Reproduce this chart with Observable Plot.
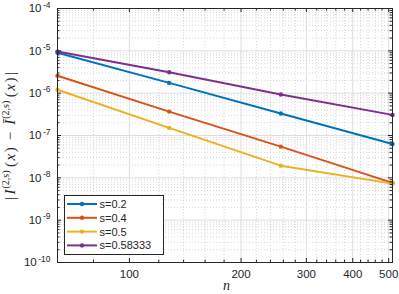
<!DOCTYPE html>
<html>
<head>
<meta charset="utf-8">
<script src="https://cdn.jsdelivr.net/npm/d3@7"></script>
<script src="https://cdn.jsdelivr.net/npm/@observablehq/plot@0.6"></script>
<style>
  html, body { margin: 0; padding: 0; background: #fff; }
  #chart svg { display: block; }
</style>
</head>
<body>
<div id="chart"></div>
<script>
// ---- data ----
const ns = [64, 128, 256, 512];
const s02 = [9.0e-6, 1.75e-6, 3.3e-7, 6.3e-8];
const s04 = [2.57e-6, 3.67e-7, 5.47e-8, 7.6e-9];
const s05 = [1.2e-6, 1.51e-7, 1.94e-8, 7.3e-9];
const s058 = [9.6e-6, 3.12e-6, 9.3e-7, 3.07e-7];
const seriesNames = ["s=0.2", "s=0.4", "s=0.5", "s=0.58333"];
const seriesValues = [s02, s04, s05, s058];
const colors = ["#0072BD", "#D95319", "#EDB120", "#7E2F8E"];

const xMajorTicks = [100, 200, 300, 400, 500];
const xMinorTicks = [80, 120, 140, 160, 180, 220, 240, 260, 280, 320, 340, 360, 380, 420, 440, 460, 480];
const yMajorTicks = [1e-10, 1e-9, 1e-8, 1e-7, 1e-6, 1e-5, 1e-4];
const yMinorMultipliers = [2, 3, 4, 5, 6, 7, 8, 9];
const yMinorTicks = yMajorTicks.slice(0, -1).flatMap(d => yMinorMultipliers.map(m => m * d));

const rows = seriesNames.flatMap((name, i) =>
  ns.map((n, j) => ({series: name, n, v: seriesValues[i][j]}))
);

const W = 399, H = 294, ML = 57, MR = 7, MT = 8, MB = 32;
const PW = W - ML - MR, PH = H - MT - MB;
const axisColor = "#262626";
const font = "'Liberation Sans', Arial, Helvetica, sans-serif";
const serif = "'Liberation Serif', 'DejaVu Serif', serif";

const chart = Plot.plot({
  width: W, height: H,
  marginLeft: ML, marginRight: MR, marginTop: MT, marginBottom: MB,
  style: {fontFamily: font, background: "#fff", color: axisColor},
  x: {type: "log", domain: [64, 512]},
  y: {type: "log", domain: [1e-10, 1e-4]},
  color: {domain: seriesNames, range: colors},
  marks: [
    // minor grid
    Plot.ruleX(xMinorTicks, {x: d => d, stroke: "#bdbdbd", strokeDasharray: "1,2", strokeWidth: 0.6}),
    Plot.ruleY(yMinorTicks, {y: d => d, stroke: "#bdbdbd", strokeDasharray: "1,2", strokeWidth: 0.6}),
    // major grid
    Plot.ruleX(xMajorTicks, {x: d => d, stroke: "#dedede", strokeWidth: 1}),
    Plot.ruleY(yMajorTicks, {y: d => d, stroke: "#dedede", strokeWidth: 1}),
    // data
    Plot.line(rows, {x: "n", y: "v", z: "series", stroke: "series", strokeWidth: 2}),
    Plot.dot(rows, {x: "n", y: "v", fill: "series", r: 2.2}),
    // frame
    Plot.frame({stroke: axisColor, strokeWidth: 1}),
    // ticks (inward)
    Plot.tickX(xMajorTicks, {x: d => d, insetTop: PH - 4, stroke: axisColor}),
    Plot.tickX(xMajorTicks, {x: d => d, insetBottom: PH - 4, stroke: axisColor}),
    Plot.tickX(xMinorTicks, {x: d => d, insetTop: PH - 2.5, stroke: axisColor}),
    Plot.tickX(xMinorTicks, {x: d => d, insetBottom: PH - 2.5, stroke: axisColor}),
    Plot.tickY(yMajorTicks, {y: d => d, insetRight: PW - 4, stroke: axisColor}),
    Plot.tickY(yMajorTicks, {y: d => d, insetLeft: PW - 4, stroke: axisColor}),
    Plot.tickY(yMinorTicks, {y: d => d, insetRight: PW - 2.5, stroke: axisColor}),
    Plot.tickY(yMinorTicks, {y: d => d, insetLeft: PW - 2.5, stroke: axisColor}),
    // tick labels
    Plot.axisX({ticks: xMajorTicks, tickSize: 0, tickPadding: 7, fontSize: 11.5, tickFormat: d => String(d), label: null, fill: axisColor}),
    Plot.axisY({ticks: yMajorTicks, tickSize: 0, tickPadding: 7, fontSize: 11.5, tickFormat: d => "10^" + Math.round(Math.log10(d)), label: null, fill: axisColor})
  ]
});

document.getElementById("chart").appendChild(chart);
const svg = d3.select(chart);

// superscript exponent in y tick labels
svg.selectAll("g[aria-label='y-axis tick label'] text").each(function() {
  const t = d3.select(this);
  const s = t.text();
  const [base, exp] = s.split("^");
  t.text(null);
  t.append("tspan").text(base);
  t.append("tspan").attr("font-size", 8.5).attr("dy", "-0.55em").attr("dx", "1.5").text(exp);
});

// x-axis label
svg.append("text")
  .attr("x", ML + PW / 2 + 2).attr("y", 290)
  .attr("text-anchor", "middle")
  .attr("font-family", serif)
  .attr("font-style", "italic")
  .attr("font-size", 14)
  .attr("fill", axisColor)
  .text("n");

// y-axis label
const yl = svg.append("text")
  .attr("transform", `translate(15,${MT + PH / 2 + 1}) rotate(-90)`)
  .attr("text-anchor", "middle")
  .attr("font-family", serif)
  .attr("font-size", 15)
  .attr("fill", axisColor);
const parts = [
  ["|", null, false, 0],
  ["I", "italic", false, 2.5],
  ["(2,s)", null, true, 1],
  ["(", null, false, 3.5],
  ["x", "italic", false, 1.5],
  [")", null, false, 1.5],
  ["\u2212", null, false, 7],
  ["\u012A", "italic", false, 7],
  ["(2,s)", null, true, 1],
  ["(", null, false, 3.5],
  ["x", "italic", false, 1.5],
  [")", null, false, 1.5],
  ["|", null, false, 2.5]
];
let wasSup = false;
for (const [txt, style, sup, dx] of parts) {
  const ts = yl.append("tspan").text(txt).attr("dx", dx);
  if (style) ts.attr("font-style", style);
  if (sup) { ts.attr("font-size", 10).attr("dy", "-0.6em"); }
  else if (wasSup) { ts.attr("dy", "0.4em"); }
  wasSup = sup;
}

// legend
const lg = svg.append("g").attr("text-anchor", "start");
const lx = 64, ly = 195, lw = 99, lh = 59;
lg.append("rect").attr("x", lx + 0.5).attr("y", ly + 0.5).attr("width", lw).attr("height", lh)
  .attr("fill", "#fff").attr("stroke", axisColor).attr("stroke-width", 1);
seriesNames.forEach((name, i) => {
  const yy = 204 + i * 13.8;
  lg.append("line").attr("x1", lx + 3).attr("x2", lx + 33).attr("y1", yy).attr("y2", yy)
    .attr("stroke", colors[i]).attr("stroke-width", 2);
  lg.append("circle").attr("cx", lx + 18).attr("cy", yy).attr("r", 2.2).attr("fill", colors[i]);
  lg.append("text").attr("x", lx + 35.5).attr("y", yy).attr("dy", "0.36em")
    .attr("text-anchor", "start")
    .attr("font-family", font).attr("font-size", 11).attr("fill", axisColor).text(name);
});
</script>
</body>
</html>
